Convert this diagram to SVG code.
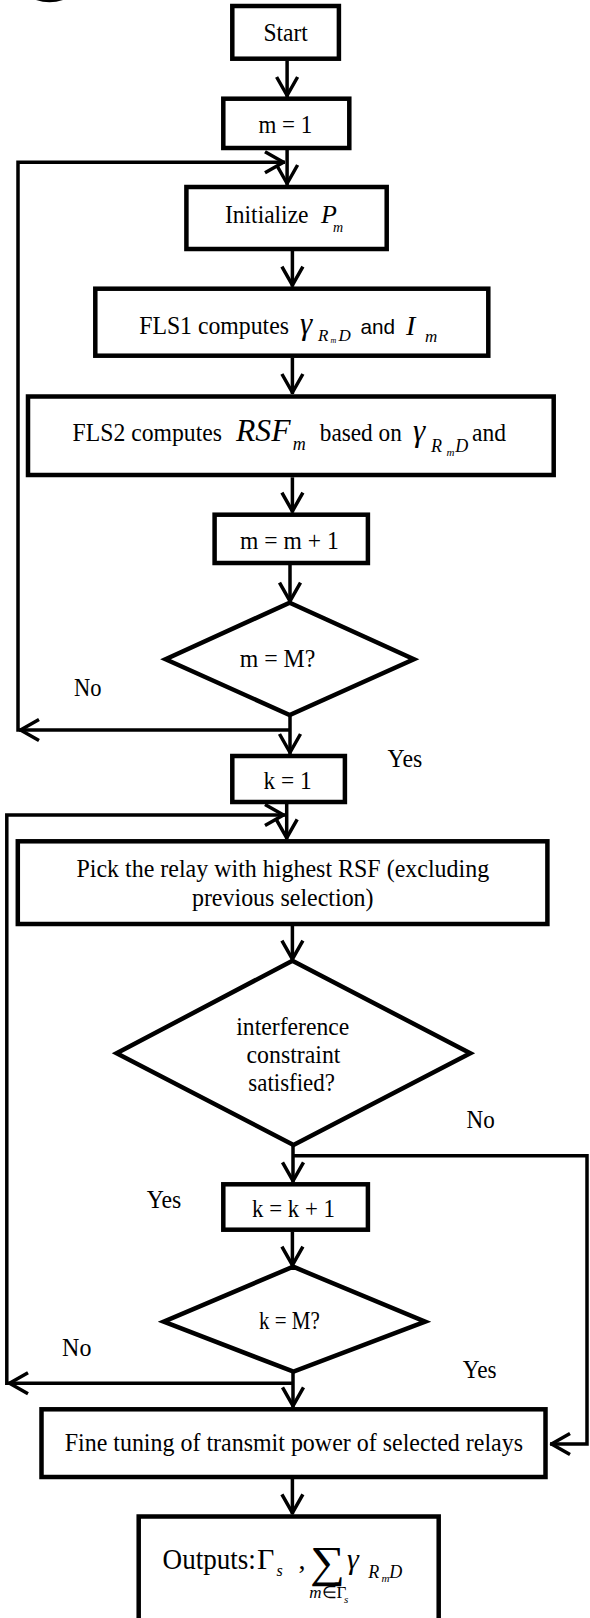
<svg xmlns="http://www.w3.org/2000/svg" width="590" height="1618" viewBox="0 0 590 1618">
<style>
.box{fill:#fff;stroke:#000;stroke-width:4.5}
.dia{fill:#fff;stroke:#000;stroke-width:4.5;stroke-linejoin:miter}
.cn{fill:none;stroke:#000;stroke-width:3.5}
.t{font-family:"Liberation Serif","Times New Roman",serif;font-size:26px;fill:#000}
.i{font-style:italic}
.s{font-family:"Liberation Sans",Arial,sans-serif}
</style>
<defs>
<marker id="ah" markerUnits="userSpaceOnUse" markerWidth="30" markerHeight="30" viewBox="-25 -15 30 30" refX="0" refY="0" orient="auto" overflow="visible">
<path d="M-20,-10.5 L-1.5,0 L-20,10.5" fill="none" stroke="#000" stroke-width="3.5" stroke-linejoin="round"/>
</marker>
</defs>
<rect width="590" height="1618" fill="#fff"/>
<path d="M36,0 Q49.5,4.5 63,0 Z" fill="#000"/>

<g id="connectors">
<path class="cn" d="M287.1,60.7 V97" marker-end="url(#ah)"/>
<path class="cn" d="M287.1,150 V185" marker-end="url(#ah)"/>
<path class="cn" d="M292.4,251 V286.7" marker-end="url(#ah)"/>
<path class="cn" d="M292.4,357.7 V394" marker-end="url(#ah)"/>
<path class="cn" d="M292.4,477.3 V512.7" marker-end="url(#ah)"/>
<path class="cn" d="M290,565 V602.7" marker-end="url(#ah)"/>
<path class="cn" d="M290,715 V754" marker-end="url(#ah)"/>
<path class="cn" d="M290,730 H19" marker-end="url(#ah)"/>
<path class="cn" d="M18,731.7 V162.3 H285" marker-end="url(#ah)"/>
<path class="cn" d="M286.7,804 V839.3" marker-end="url(#ah)"/>
<path class="cn" d="M292.4,926 V960.7" marker-end="url(#ah)"/>
<path class="cn" d="M293,1145 V1182.3" marker-end="url(#ah)"/>
<path class="cn" d="M293,1155.7 H587 V1444 H550" marker-end="url(#ah)"/>
<path class="cn" d="M292.4,1231.7 V1266.7" marker-end="url(#ah)"/>
<path class="cn" d="M293,1371.7 V1407.3" marker-end="url(#ah)"/>
<path class="cn" d="M293,1383.3 H8" marker-end="url(#ah)"/>
<path class="cn" d="M6.8,1385 V815 H285" marker-end="url(#ah)"/>
<path class="cn" d="M292.4,1479 V1514.3" marker-end="url(#ah)"/>
</g>

<g id="start">
<rect class="box" x="232.3" y="6" width="106.6" height="52.7"/>
<text class="t" x="263.4" y="40.7" textLength="44.4" lengthAdjust="spacingAndGlyphs">Start</text>
</g>

<g id="m1">
<rect class="box" x="223.3" y="98.7" width="126" height="49.3"/>
<text class="t" x="258.5" y="133.3" textLength="53.8" lengthAdjust="spacingAndGlyphs">m = 1</text>
</g>

<g id="init">
<rect class="box" x="186.4" y="187" width="200.3" height="62"/>
<text class="t" x="225" y="223.3" textLength="83.5" lengthAdjust="spacingAndGlyphs">Initialize</text>
<text class="t i" x="321" y="223.3" style="font-size:26px">P</text>
<text class="t i" x="333" y="231.7" style="font-size:14px">m</text>
</g>

<g id="fls1">
<rect class="box" x="95.3" y="288.7" width="393" height="67"/>
<text class="t" x="139.2" y="334" textLength="149.8" lengthAdjust="spacingAndGlyphs">FLS1 computes</text>
<text class="t i" x="300" y="334" style="font-size:31px">γ</text>
<text class="t i" x="318" y="340.7" style="font-size:17px">R</text>
<text class="t i" x="330.5" y="343" style="font-size:8px">m</text>
<text class="t i" x="338.6" y="340.7" style="font-size:17px">D</text>
<text class="t s" x="360.5" y="334" style="font-size:21px" textLength="34.6" lengthAdjust="spacingAndGlyphs">and</text>
<text class="t i" x="406" y="335" style="font-size:28px">I</text>
<text class="t i" x="425" y="341.7" style="font-size:17px">m</text>
</g>

<g id="fls2">
<rect class="box" x="28" y="396.5" width="525.7" height="78.5"/>
<text class="t" x="72.6" y="441" textLength="149.4" lengthAdjust="spacingAndGlyphs">FLS2 computes</text>
<text class="t i" x="236" y="441" style="font-size:32px" textLength="54.5" lengthAdjust="spacingAndGlyphs">RSF</text>
<text class="t i" x="292.7" y="450" style="font-size:18px">m</text>
<text class="t" x="319.8" y="441" textLength="82" lengthAdjust="spacingAndGlyphs">based on</text>
<text class="t i" x="413" y="441" style="font-size:31px">γ</text>
<text class="t i" x="431" y="451.7" style="font-size:18px">R</text>
<text class="t i" x="446.5" y="455.7" style="font-size:11px">m</text>
<text class="t i" x="455.3" y="451.7" style="font-size:18px">D</text>
<text class="t" x="472" y="441" textLength="34" lengthAdjust="spacingAndGlyphs">and</text>
</g>

<g id="mplus">
<rect class="box" x="214.6" y="514.7" width="153.3" height="48.3"/>
<text class="t" x="240" y="549.3" textLength="98.7" lengthAdjust="spacingAndGlyphs">m = m + 1</text>
</g>

<g id="dec1">
<polygon class="dia" points="289.7,602.7 413.9,659.3 289.7,715 165.6,659.3"/>
<text class="t" x="239.7" y="667.3" textLength="75.6" lengthAdjust="spacingAndGlyphs">m = M?</text>
</g>

<g id="k1">
<rect class="box" x="232.3" y="756" width="112.6" height="46"/>
<text class="t" x="263.4" y="789.3" textLength="48.2" lengthAdjust="spacingAndGlyphs">k = 1</text>
</g>

<g id="pick">
<rect class="box" x="17.8" y="841.3" width="529.6" height="82.7"/>
<text class="t" x="76.4" y="877.3" textLength="412.8" lengthAdjust="spacingAndGlyphs">Pick the relay with highest RSF (excluding</text>
<text class="t" x="191.9" y="906" textLength="181.7" lengthAdjust="spacingAndGlyphs">previous selection)</text>
</g>

<g id="dec2">
<polygon class="dia" points="292.4,960.7 470.3,1053.3 293.5,1145 116.6,1053.3"/>
<text class="t" x="236.3" y="1035" textLength="112.9" lengthAdjust="spacingAndGlyphs">interference</text>
<text class="t" x="246.5" y="1063.3" textLength="94" lengthAdjust="spacingAndGlyphs">constraint</text>
<text class="t" x="248.3" y="1090.7" textLength="86.6" lengthAdjust="spacingAndGlyphs">satisfied?</text>
</g>

<g id="kplus">
<rect class="box" x="223.3" y="1184.3" width="144.6" height="45.4"/>
<text class="t" x="252.1" y="1217.3" textLength="82.8" lengthAdjust="spacingAndGlyphs">k = k + 1</text>
</g>

<g id="dec3">
<polygon class="dia" points="293.1,1266.7 425.2,1321.7 293.5,1371.7 163.7,1321.7"/>
<text class="t" x="258.9" y="1329" textLength="60.9" lengthAdjust="spacingAndGlyphs">k = M?</text>
</g>

<g id="fine">
<rect class="box" x="41.5" y="1409.3" width="504" height="67.7"/>
<text class="t" x="64.7" y="1451" textLength="458.3" lengthAdjust="spacingAndGlyphs">Fine tuning of transmit power of selected relays</text>
</g>

<g id="outputs">
<path class="box" d="M138.7,1625 V1516.5 H438.7 V1625"/>
<text class="t" x="162.6" y="1568.5" style="font-size:30px" textLength="93.3" lengthAdjust="spacingAndGlyphs">Outputs:</text>
<text class="t" x="257" y="1568.5" style="font-size:30px">Γ</text>
<text class="t i" x="276.6" y="1576" style="font-size:16px">s</text>
<text class="t" x="298.5" y="1568.5" style="font-size:28px">,</text>
<text class="t" x="310" y="1577" style="font-size:44px" textLength="35" lengthAdjust="spacingAndGlyphs">∑</text>
<text class="t i" x="347" y="1568.5" style="font-size:30px">γ</text>
<text class="t i" x="368.3" y="1578.3" style="font-size:18px">R</text>
<text class="t i" x="381.5" y="1581.7" style="font-size:11px">m</text>
<text class="t i" x="389.3" y="1578.3" style="font-size:18px">D</text>
<text class="t" x="309.3" y="1598.3" style="font-size:17px"><tspan class="i">m</tspan>∈Γ</text>
<text class="t i" x="344" y="1603.3" style="font-size:11px">s</text>
</g>

<g id="labels">
<text class="t" x="74.1" y="696" textLength="27.5" lengthAdjust="spacingAndGlyphs">No</text>
<text class="t" x="387.6" y="767.3" textLength="34.6" lengthAdjust="spacingAndGlyphs">Yes</text>
<text class="t" x="466.6" y="1128.3" textLength="28.2" lengthAdjust="spacingAndGlyphs">No</text>
<text class="t" x="146.7" y="1208.3" textLength="34.6" lengthAdjust="spacingAndGlyphs">Yes</text>
<text class="t" x="62.1" y="1356" textLength="29.3" lengthAdjust="spacingAndGlyphs">No</text>
<text class="t" x="462.8" y="1378.3" textLength="33.9" lengthAdjust="spacingAndGlyphs">Yes</text>
</g>
</svg>
